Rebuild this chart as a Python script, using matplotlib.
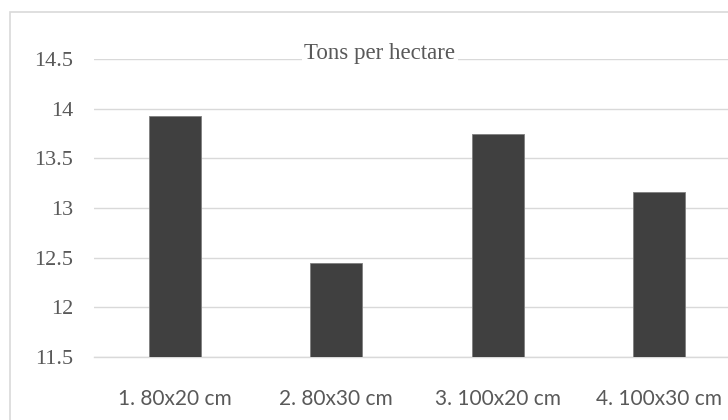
import matplotlib.pyplot as plt
from matplotlib.patches import Rectangle

# data
categories = ["1. 80x20 cm", "2. 80x30 cm", "3. 100x20 cm", "4. 100x30 cm"]
tons = [13.93, 12.45, 13.75, 13.16]
yticks = [11.5, 12, 12.5, 13, 13.5, 14, 14.5]
ytick_labels = ["11.5", "12", "12.5", "13", "13.5", "14", "14.5"]

grey_txt = "#595959"
grid_col = "#d9d9d9"

fig = plt.figure(figsize=(7.28, 4.2), dpi=100)

# chart area border (runs off the right and bottom of the picture)
fig.patches.append(Rectangle((10 / 728, -0.2), 1.2, 1 - 12 / 420 + 0.2,
                             transform=fig.transFigure, fill=False,
                             edgecolor=grid_col, linewidth=1.2))

ax = fig.add_axes([94 / 728, 1 - 357 / 420, (740 - 94) / 728, (357 - 59) / 420])
x = range(len(categories))
ax.bar(x, tons, width=0.32, color="#404040", edgecolor="#7f7f7f",
       linewidth=0.6, zorder=3)

ax.set_xlim(-0.5, len(categories) - 0.5)
ax.set_ylim(11.5, 14.5)
ax.set_yticks(yticks)
ax.set_yticklabels(ytick_labels)
ax.set_xticks(list(x))
ax.set_xticklabels(categories)
for t in ax.get_yticklabels():
    t.set_fontfamily("Liberation Serif")
    t.set_fontsize(16)
    t.set_color(grey_txt)
for t in ax.get_xticklabels():
    t.set_fontfamily("Lato")
    t.set_fontsize(15)
    t.set_color(grey_txt)
ax.tick_params(axis="y", length=0, pad=15)
ax.tick_params(axis="x", length=0, pad=23)
ax.grid(axis="y", color=grid_col, linewidth=1.0, zorder=0)
for s in ax.spines.values():
    s.set_visible(False)
# bottom line at 11.5 (grid line at the edge gets half clipped)
ax.spines["bottom"].set_visible(True)
ax.spines["bottom"].set_color(grid_col)
ax.spines["bottom"].set_linewidth(1.0)
ax.spines["bottom"].set_zorder(0)

fig.text(380 / 728, 1 - 53 / 420, "Tons per hectare", ha="center", va="center",
         fontfamily="Liberation Serif", fontsize=16.5, color=grey_txt,
         bbox=dict(facecolor="white", edgecolor="none", pad=1.5), zorder=5)

fig.savefig("out.png", dpi=100)
